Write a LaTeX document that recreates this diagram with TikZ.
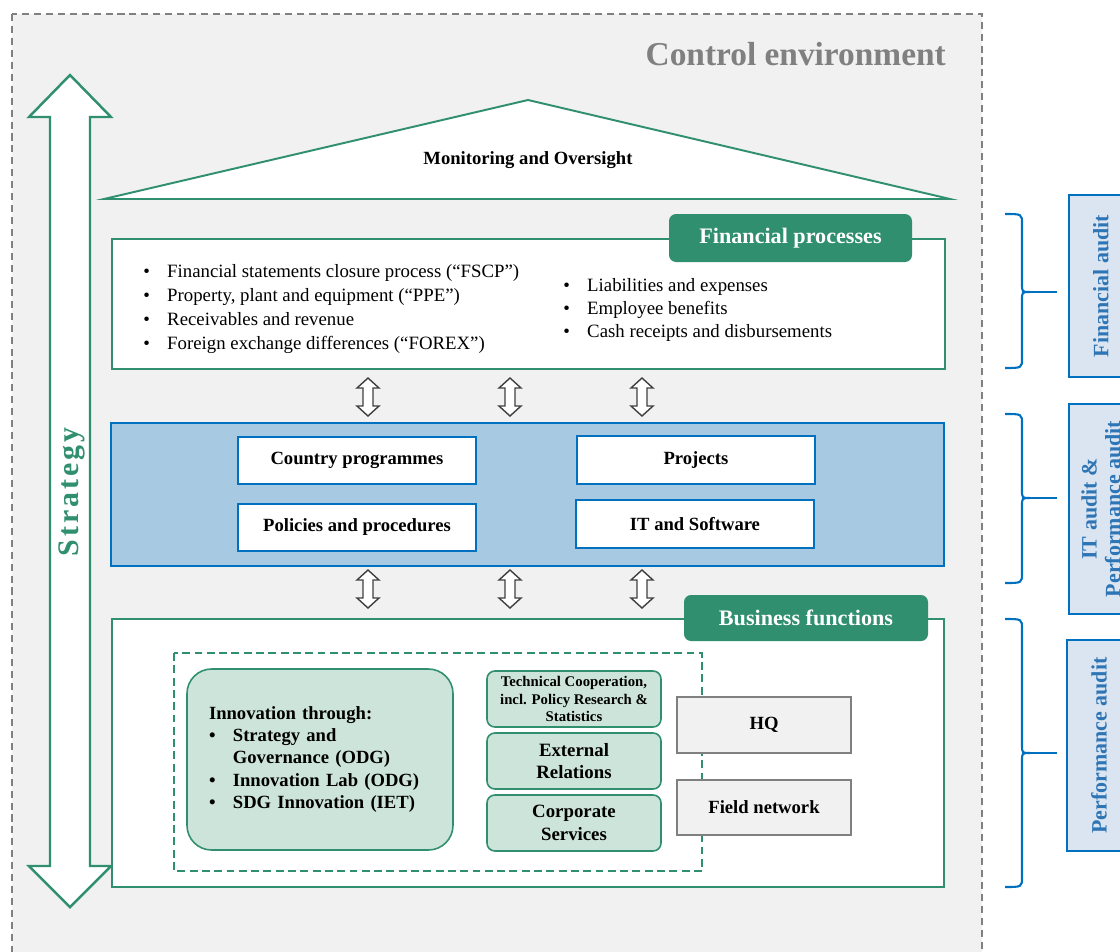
\documentclass[tikz,border=0pt]{standalone}
\usepackage{fontspec}
\setmainfont{Liberation Serif}
\usetikzlibrary{positioning}
\definecolor{fgreen}{HTML}{2F8F6E}
\definecolor{lgreen}{HTML}{CDE4DA}
\definecolor{cblue}{HTML}{0070C0}
\definecolor{mblue}{HTML}{A7C9E2}
\definecolor{pblue}{HTML}{DAE5F1}
\definecolor{tblue}{HTML}{2E75B6}
\definecolor{envgray}{HTML}{F1F1F1}
\newcommand{\itemdot}{\makebox[13.6pt][l]{\textbullet}}
\newcommand{\auditbrace}[3]{%
  \draw[brace] (1005,#1) .. controls (1022,#1) .. (1022,#1+10) -- (1022,#2-8)
    .. controls (1022,#2) .. (1030,#2) .. controls (1022,#2) .. (1022,#2+8)
    -- (1022,#3-10) .. controls (1022,#3) .. (1005,#3);
  \draw[brace] (1030,#2) -- (1057,#2);}
\begin{document}
\begin{tikzpicture}[x=0.02cm,y=-0.02cm,
  wh/.style 2 args={minimum width=#1*0.02cm,minimum height=#2*0.02cm,inner sep=0pt},
  bf/.style={font=\fontsize{10.6}{12.8}\selectfont\bfseries},
  greenbox/.style={draw=fgreen,line width=1.4pt,fill=white},
  tab/.style={fill=fgreen,rounded corners=4pt,text=white,font=\fontsize{12.6}{15}\selectfont\bfseries},
  cell/.style={draw=cblue,line width=0.9pt,fill=white,bf},
  unit/.style={draw=fgreen,line width=0.9pt,fill=lgreen,rounded corners=4.5pt,bf,align=center},
  site/.style={draw=gray,line width=0.9pt,fill=envgray,bf},
  audit/.style={draw=cblue,line width=1.4pt,fill=pblue,text=tblue,rotate=90,align=center,
    font=\fontsize{12.5}{13.6}\selectfont\bfseries},
  brace/.style={draw=cblue,line width=1.2pt},
  twoway/.pic={\draw[black!75,line width=0.8pt,fill=white] (0,-19) -- (11,-9) -- (5,-9) -- (5,9)
    -- (11,9) -- (0,19) -- (-11,9) -- (-5,9) -- (-5,-9) -- (-11,-9) -- cycle;}]
\useasboundingbox (0,0) rectangle (1120,951);
\clip (0,0) rectangle (1120,951);
\fill[white] (0,0) rectangle (1120,951);

% control environment
\draw[gray,line width=0.9pt,dash pattern=on 4pt off 2.8pt,fill=envgray] (12,14) rectangle (982,970);
\node[anchor=east,text=gray,font=\fontsize{19}{22}\selectfont\bfseries] (envtitle) at (952,54) {Control environment};

% strategy
\draw[greenbox] (70,75) -- (111,117) -- (90,117) -- (90,866) -- (111,866) -- (70,907)
  -- (29,866) -- (50,866) -- (50,117) -- (29,117) -- cycle;
\node[rotate=90,text=fgreen,font=\fontsize{17}{19}\selectfont\bfseries\addfontfeature{LetterSpace=10}] (strategy) at (72,492) {Strategy};

% monitoring
\draw[greenbox,line width=1.1pt] (104,199) -- (528,100) -- (950,199) -- cycle;
\node[bf] (monitor) at (528,160) {Monitoring and Oversight};

% financial processes
\node[greenbox,wh={833}{130}] (fin) at (528.5,304) {};
\node[tab,wh={243}{48}] (fintab) at (790.5,238) {Financial processes};
\node[anchor=west,inner sep=0pt,align=left,font=\fontsize{10.7}{13.8}\selectfont] (finleft) at (143,309)
  {\itemdot Financial statements closure process (“FSCP”)\\
   \itemdot Property, plant and equipment (“PPE”)\\
   \itemdot Receivables and revenue\\
   \itemdot Foreign exchange differences (“FOREX”)};
\node[anchor=west,inner sep=0pt,align=left,font=\fontsize{10.7}{13.1}\selectfont] (finright) at (563,310)
  {\itemdot Liabilities and expenses\\
   \itemdot Employee benefits\\
   \itemdot Cash receipts and disbursements};

\pic at (368,397) {twoway};
\pic at (510,397) {twoway};
\pic at (642,397) {twoway};

% programmes and projects
\node[draw=cblue,line width=1.4pt,fill=mblue,wh={833}{143}] (core) at (527.5,494.5) {};
\node[cell,wh={238}{47}] (country) at (357,460.5) {Country programmes};
\node[cell,wh={238}{48}] (projects) at (696,460) {Projects};
\node[cell,wh={238}{47}] (policies) at (357,527.5) {Policies and procedures};
\node[cell,wh={238}{48}] (itsoft) at (695,524) {IT and Software};

\pic at (368,589) {twoway};
\pic at (510,589) {twoway};
\pic at (642,589) {twoway};

% business functions
\node[greenbox,wh={832}{268}] (bus) at (528,753) {};
\node[tab,wh={244}{46}] (bustab) at (806,618) {Business functions};
\draw[fgreen,line width=1.1pt,dash pattern=on 4.5pt off 2.5pt] (174,653) rectangle (702,871);
\node[unit,rounded corners=14pt,align=left,wh={266}{181},text width=4.44cm] (innov) at (320,759.5)
  {Innovation through:\\
   \itemdot Strategy and\\
   \hspace{13.6pt}Governance (ODG)\\
   \itemdot Innovation Lab (ODG)\\
   \itemdot SDG Innovation (IET)};
\node[unit,wh={174}{56},font=\fontsize{8.4}{10.2}\selectfont\bfseries] (techcoop) at (574,699)
  {Technical Cooperation,\\incl. Policy Research \&\\Statistics};
\node[unit,wh={174}{56},font=\fontsize{10.7}{13}\selectfont\bfseries] (extrel) at (574,761) {External\\Relations};
\node[unit,wh={174}{56},font=\fontsize{10.7}{13}\selectfont\bfseries] (corpserv) at (574,823) {Corporate\\Services};
\node[site,wh={174}{56}] (hq) at (764,725) {HQ};
\node[site,wh={174}{55}] (field) at (764,807.5) {Field network};

% audits
\auditbrace{214}{292}{368}
\auditbrace{414}{498}{583}
\auditbrace{619}{753}{887}
\node[audit,wh={182}{64}] (finaudit) at (1101,286) {Financial audit};
\node[audit,wh={210}{64}] (itaudit) at (1101,509) {IT audit \&\\Performance audit};
\node[audit,wh={211}{64}] (perfaudit) at (1099,745.5) {Performance audit};
\end{tikzpicture}
\end{document}
